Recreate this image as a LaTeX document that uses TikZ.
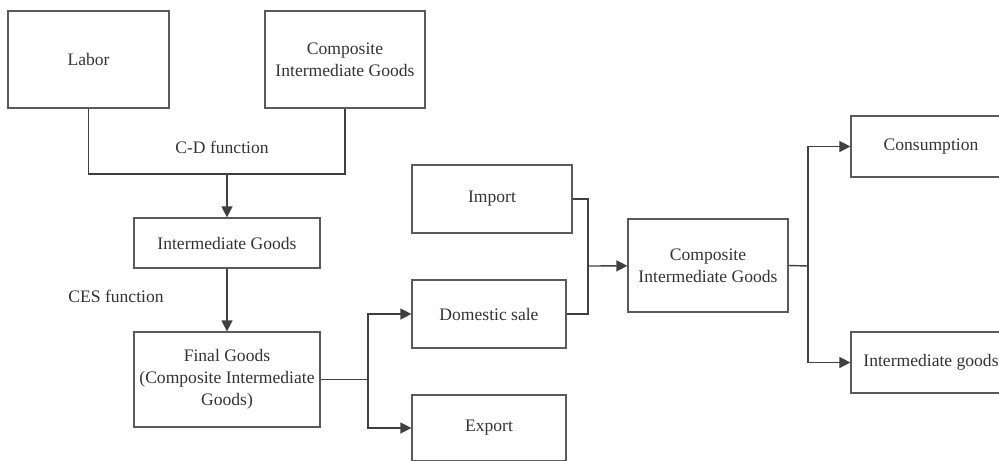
\documentclass[tikz,border=0pt]{standalone}
\usepackage{fontspec}
\setmainfont{Liberation Serif}
\usepackage{tikz}
\usetikzlibrary{arrows.meta, positioning}

\definecolor{boxline}{HTML}{5A5A5A}
\definecolor{conline}{HTML}{404040}

\begin{document}
\begin{tikzpicture}[
        x=0.02cm, y=-0.02cm,
        block/.style={draw=boxline, line width=0.7pt, rectangle, align=center, inner xsep=2pt, font=\fontsize{10}{12.5}\selectfont, text=black!80},
        label/.style={font=\fontsize{10}{12.5}\selectfont, text=black!80},
        link/.style={draw=conline, line width=0.8pt},
        arrow/.style={link, -{Triangle[length=6.3pt, width=6.3pt]}}
    ]
        \clip (0,0) rectangle (999,460);

        % Production inputs
        \node (labor) [block, minimum width=161*0.02cm, minimum height=97*0.02cm] at (88.5, 59.5) {Labor};
        \node (cigtop) [block, minimum width=160*0.02cm, minimum height=97*0.02cm] at (345, 59.5) {Composite\\Intermediate Goods};

        % Production chain
        \node (inter) [block, minimum width=186*0.02cm, minimum height=50*0.02cm] at (227, 243) {Intermediate Goods};
        \node (final) [block, minimum width=186*0.02cm, minimum height=95*0.02cm] at (227, 379.5) {Final Goods\\(Composite Intermediate\\Goods)};

        % Trade
        \node (import) [block, minimum width=160*0.02cm, minimum height=68*0.02cm] at (492, 199) {Import};
        \node (domestic) [block, minimum width=154*0.02cm, minimum height=68*0.02cm] at (489, 314) {Domestic sale};
        \node (export) [block, minimum width=154*0.02cm, minimum height=66*0.02cm] at (489, 428) {Export};

        % Use
        \node (cigright) [block, minimum width=160*0.02cm, minimum height=93*0.02cm] at (708, 265.5) {Composite\\Intermediate Goods};
        \node (consumption) [block, minimum width=160*0.02cm, minimum height=61*0.02cm] at (931, 146.5) {Consumption};
        \node (intgoods) [block, minimum width=160*0.02cm, minimum height=61*0.02cm] at (931, 362.5) {Intermediate goods};

        % Function labels
        \node (cdlabel) [label] at (222, 147) {C-D function};
        \node (ceslabel) [label] at (116, 296) {CES function};

        % Junction points
        \coordinate (cd) at (227, 174);
        \coordinate (splitA) at (368, 379.5);
        \coordinate (merge) at (588, 266);
        \coordinate (splitB) at (808, 266);

        % C-D connections
        \draw [link] (labor.south) |- (cd) -| (cigtop.south);
        \draw [arrow] (cd) -- (inter);
        \draw [arrow] (inter) -- (final);

        % Final goods split
        \draw [link] (final.east) -- (splitA);
        \draw [arrow] (splitA) |- (domestic);
        \draw [arrow] (splitA) |- (export.west);

        % Armington merge
        \draw [link] (import.east) -| (merge);
        \draw [link] (domestic.east) -| (merge);
        \draw [arrow] (merge) -- (cigright);

        % Use split
        \draw [link] (cigright.east) -- (splitB);
        \draw [arrow] (splitB) |- (consumption);
        \draw [arrow] (splitB) |- (intgoods);
    \end{tikzpicture}
\end{document}
